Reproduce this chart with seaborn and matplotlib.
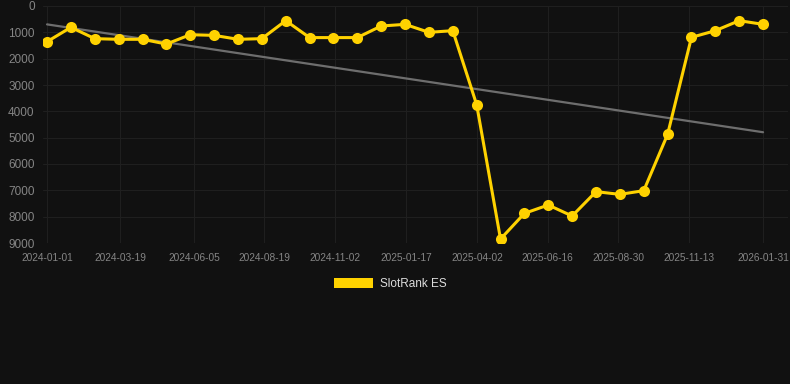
import numpy as np
import pandas as pd
import matplotlib
matplotlib.use("Agg")
import matplotlib.pyplot as plt
import matplotlib.dates as mdates
from matplotlib.patches import Patch
import seaborn as sns

# rank values (lower is better, axis inverted)
rank_values = [1355, 810, 1240, 1265, 1265, 1445, 1090, 1115, 1265, 1240,
               557, 1200, 1200, 1200, 760, 697, 1000, 937, 3747, 8850,
               7875, 7557, 7975, 7050, 7153, 7013, 4875, 1190, 937, 557, 697]
tick_labels = ["2024-01-01", "2024-03-19", "2024-06-05", "2024-08-19",
               "2024-11-02", "2025-01-17", "2025-04-02", "2025-06-16",
               "2025-08-30", "2025-11-13", "2026-01-31"]
y_ticks = [0, 1000, 2000, 3000, 4000, 5000, 6000, 7000, 8000, 9000]
series_name = "SlotRank ES"

dates = pd.date_range("2024-01-01", "2026-01-31", periods=len(rank_values))
df = pd.DataFrame({"date": dates, "rank": rank_values})

# linear trend through the points
xnum = mdates.date2num(df["date"])
slope, intercept = np.polyfit(xnum, df["rank"], 1)
df["trend"] = slope * xnum + intercept

bg = "#111111"
gold = "#FFD200"

sns.set_theme(style="dark")
plt.rcParams["font.family"] = ["Liberation Sans", "DejaVu Sans"]

fig = plt.figure(figsize=(7.9, 3.84), dpi=100, facecolor=bg)
ax = fig.add_axes([43 / 790, 1 - 243 / 384, 745 / 790, 237 / 384])
ax.set_facecolor(bg)

sns.lineplot(data=df, x="date", y="trend", ax=ax, color="#6e6e6e",
             linewidth=1.6, legend=False)
sns.lineplot(data=df, x="date", y="rank", ax=ax, color=gold, linewidth=2.2,
             marker="o", markersize=8, markeredgewidth=0, legend=False)

ax.set_ylim(9000, 0)
ax.set_yticks(y_ticks)
ax.set_yticklabels([str(v) for v in y_ticks])

tick_dates = pd.to_datetime(tick_labels)
ax.set_xticks(tick_dates)
ax.set_xticklabels(tick_labels)
ax.set_xlim(pd.Timestamp("2024-01-01") - pd.Timedelta(days=4.3),
            pd.Timestamp("2026-01-31") + pd.Timedelta(days=26.5))

ax.grid(True, color="#1f1f1f", linewidth=0.8)
for s in ax.spines.values():
    s.set_visible(False)
ax.tick_params(axis="x", colors="#858585", labelsize=7.3, length=0, pad=7)
ax.tick_params(axis="y", colors="#858585", labelsize=8.5, length=0, pad=6)
ax.set_xlabel("")
ax.set_ylabel("")

handle = Patch(facecolor=gold, edgecolor="none", label=series_name)
leg = fig.legend(handles=[handle], loc="center",
                 bbox_to_anchor=(390 / 790, 1 - 284 / 384), frameon=False,
                 handlelength=3.3, handleheight=0.9, handletextpad=0.6,
                 fontsize=8.5)
for t in leg.get_texts():
    t.set_color("#dddddd")

fig.savefig("out.png", dpi=100, facecolor=bg)
